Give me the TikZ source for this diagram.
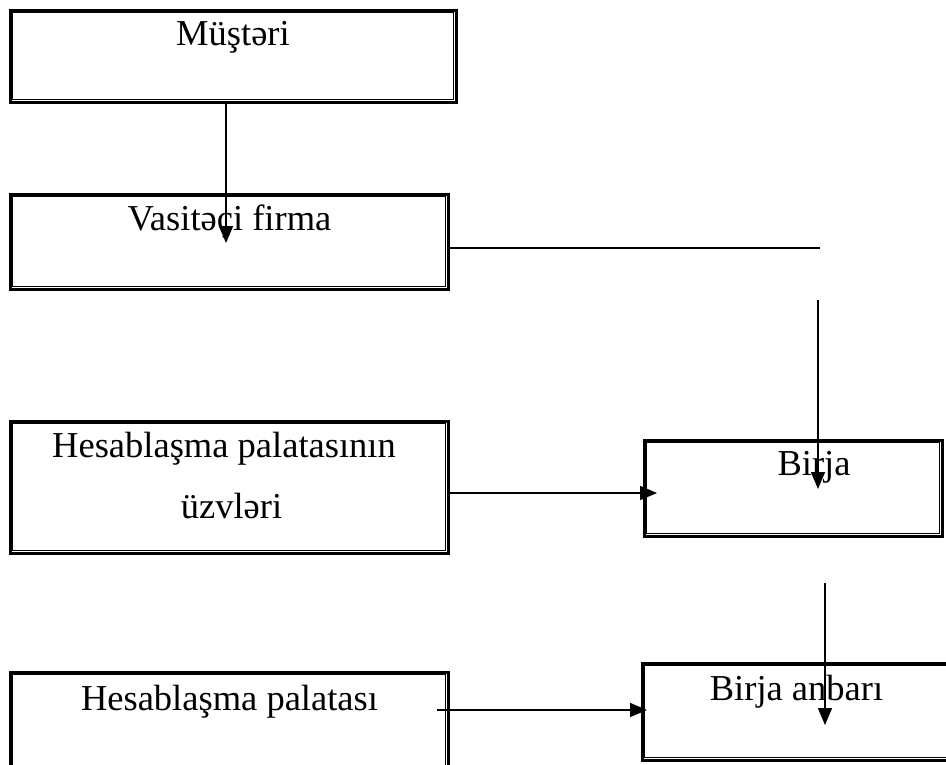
\documentclass[tikz,border=0pt]{standalone}
\usepackage{fontspec}
\setmainfont{Liberation Serif}
\usetikzlibrary{arrows.meta}
\begin{document}
\begin{tikzpicture}[x=1pt,y=-1pt,
  framebox/.style={draw, line width=3pt, inner sep=0pt, anchor=center},
  label/.style={anchor=base, inner sep=0pt, font=\fontsize{36.5}{43}\selectfont},
  link/.style={line width=1.5pt},
  arrowlink/.style={line width=1.5pt, -{Triangle[length=17pt,width=14pt]}}]
\useasboundingbox (0,0) rectangle (946,764);
\clip (0,0) rectangle (946,764);
\fill[white] (0,0) rectangle (946,764);

% boxes (outer thick frame)
\node[framebox, minimum width=446pt, minimum height=92pt]  (mus)   at (233,56)    {};
\node[framebox, minimum width=438pt, minimum height=95pt]  (vas)   at (229,241.5) {};
\node[framebox, minimum width=438pt, minimum height=132pt] (hpu)   at (229,487)   {};
\node[framebox, minimum width=438pt, minimum height=140pt] (hp)    at (229,742)   {};
\node[framebox, minimum width=298pt, minimum height=96pt]  (birja) at (793,488)   {};
\node[framebox, minimum width=318pt, minimum height=97pt]  (anbar) at (801,711.5) {};

% inner thin frame of each box
\foreach \n in {mus,vas,hpu,hp,birja,anbar}
  \draw[line width=1.2pt] ([shift={(4pt,4pt)}]\n.south west)
                          rectangle ([shift={(-4pt,-4pt)}]\n.north east);

% texts
\node[label] (tmus)   at (233,45)    {Müştəri};
\node[label] (tvas)   at (229.5,230) {Vasitəçi firma};
\node[label] (thpu1)  at (224,457)   {Hesablaşma palatasının};
\node[label] (thpu2)  at (231.5,518) {üzvləri};
\node[label] (thp)    at (229.5,710) {Hesablaşma palatası};
\node[label] (tbirja) at (814,475)   {Birja};
\node[label] (tanbar) at (796.5,700) {Birja anbarı};

% connector end points
\coordinate (musEnd)   at (226,243);
\coordinate (vasEnd)   at (820,248);
\coordinate (dropTop)  at (818,300);
\coordinate (birjaEnd) at (818,489);
\coordinate (hpuEnd)   at (657,493);
\coordinate (anbTop)   at (825,583);
\coordinate (anbEnd)   at (825,725);
\coordinate (hpStart)  at (437,710);
\coordinate (hpEnd)    at (647,710);

% connectors
\draw[arrowlink] (mus.south -| musEnd) -- (musEnd);
\draw[link] (vas.east |- vasEnd) -- (vasEnd);
\draw[arrowlink] (dropTop) -- (birjaEnd);
\draw[arrowlink] (hpu.east |- hpuEnd) -- (hpuEnd);
\draw[arrowlink] (anbTop) -- (anbEnd);
\draw[arrowlink] (hpStart) -- (hpEnd);
\end{tikzpicture}
\end{document}
